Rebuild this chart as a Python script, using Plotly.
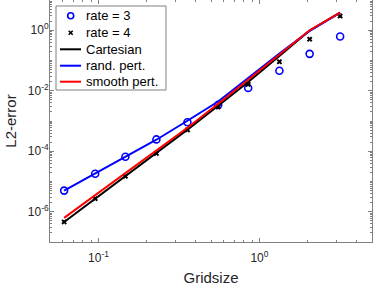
import plotly.graph_objects as go

# Grid sizes (x)
gridsize = [0.0612, 0.0954, 0.147, 0.229, 0.357, 0.554, 0.851, 1.33, 2.05, 3.17]

# Reference rates (markers)
rate3 = [5.0e-6, 1.8e-5, 6.6e-5, 2.46e-4, 9.1e-4, 3.4e-3, 0.0124, 0.046, 0.166, 0.62]
rate4 = [4.6e-7, 2.7e-6, 1.49e-5, 8.5e-5, 5.1e-4, 2.9e-3, 0.0163, 0.091, 0.506, 2.95]

# Error curves
cartesian = [4.6e-7, 2.7e-6, 1.48e-5, 8.5e-5, 5.2e-4, 3.2e-3, 0.0195, 0.141, 0.977, 3.85]
rand_pert = [5.0e-6, 1.8e-5, 6.6e-5, 2.4e-4, 1.02e-3, 4.4e-3, 0.0263, 0.170, 0.955, 3.85]
smooth_pert = [6.3e-7, 3.55e-6, 2.0e-5, 1.1e-4, 6.0e-4, 3.7e-3, 0.0229, 0.151, 1.0, 3.85]

legend_names = ["rate = 3", "rate = 4", "Cartesian", "rand. pert.", "smooth pert."]

x_major = [0.1, 1]
x_major_text = ["10<sup>-1</sup>", "10<sup>0</sup>"]
y_major = [1e-6, 1e-4, 1e-2, 1]
y_major_text = ["10<sup>-6</sup>", "10<sup>-4</sup>", "10<sup>-2</sup>", "10<sup>0</sup>"]

x_minor = [k * 10.0 ** e for e in (-2, -1, 0) for k in range(1, 10) if 0.05 <= k * 10.0 ** e <= 5]
y_minor = [k * 10.0 ** e for e in range(-7, 1) for k in range(1, 10)] + [10.0]

FONT = "Liberation Sans, Arial, sans-serif"
TXT = "#262626"
AX = "#808080"
BLUE = "#0000ff"
RED = "#ff0000"
BLACK = "#000000"

W, H = 374, 286
ML, MR, MT, MB = 50, 2, 0, 44
PW, PH = W - ML - MR, H - MT - MB

fig = go.Figure()
fig.add_trace(go.Scatter(x=gridsize, y=rate3, mode="markers", name=legend_names[0],
                         marker=dict(symbol="circle-open", size=7, color=BLUE,
                                     line=dict(width=1.6, color=BLUE))))
fig.add_trace(go.Scatter(x=gridsize, y=rate4, mode="markers", name=legend_names[1],
                         marker=dict(symbol="x", size=5, color=BLACK, line=dict(width=0))))
fig.add_trace(go.Scatter(x=gridsize, y=cartesian, mode="lines", name=legend_names[2],
                         line=dict(color=BLACK, width=2)))
fig.add_trace(go.Scatter(x=gridsize, y=rand_pert, mode="lines", name=legend_names[3],
                         line=dict(color=BLUE, width=2)))
fig.add_trace(go.Scatter(x=gridsize, y=smooth_pert, mode="lines", name=legend_names[4],
                         line=dict(color=RED, width=2)))

axis_common = dict(
    showgrid=False, zeroline=False, showline=True, linecolor=AX, linewidth=1,
    mirror="allticks", ticks="inside", ticklen=4, tickcolor=AX, automargin=False,
    tickfont=dict(family=FONT, size=12, color=TXT),
)

fig.update_xaxes(type="log", range=[-1.301, 0.699],
                 tickmode="array", tickvals=x_major, ticktext=x_major_text,
                 ticklabelstandoff=5,
                 minor=dict(tickmode="array", tickvals=x_minor, ticks="inside",
                            ticklen=2, tickcolor=AX),
                 title=dict(text="Gridsize", font=dict(family=FONT, size=15, color=TXT),
                            standoff=13),
                 **axis_common)
fig.update_yaxes(type="log", range=[-7, 1],
                 tickmode="array", tickvals=y_major, ticktext=y_major_text,
                 ticklabelstandoff=-2,
                 minor=dict(tickmode="array", tickvals=y_minor, ticks="inside",
                            ticklen=2, tickcolor=AX),
                 title=dict(text="L2-error", font=dict(family=FONT, size=15, color=TXT),
                            standoff=7),
                 **axis_common)

# ---- hand-drawn legend (pixel layout converted to paper coords) ----
def px(xp):
    return (xp - ML) / PW

def py(yp):
    return (H - MB - yp) / PH

shapes = [dict(type="rect", xref="paper", yref="paper",
               x0=px(56), x1=px(166), y0=py(90), y1=py(6),
               line=dict(color=AX, width=1), fillcolor="white", layer="above")]
annotations = []
row_y = [15.7, 32.7, 49.3, 65.7, 81.7]
for i, name in enumerate(legend_names):
    annotations.append(dict(text=name, xref="paper", yref="paper", x=px(84), y=py(row_y[i]),
                            xanchor="left", yanchor="middle", showarrow=False,
                            font=dict(family=FONT, size=13, color=BLACK)))
# samples
shapes.append(dict(type="circle", xref="paper", yref="paper", xsizemode="pixel", ysizemode="pixel",
                   xanchor=px(70.7), yanchor=py(row_y[0]), x0=-3, x1=3, y0=-3, y1=3,
                   line=dict(color=BLUE, width=1.6), layer="above"))
for dx0, dy0, dx1, dy1 in [(-2, -2, 2, 2), (-2, 2, 2, -2)]:
    shapes.append(dict(type="line", xref="paper", yref="paper", xsizemode="pixel", ysizemode="pixel",
                       xanchor=px(70.7), yanchor=py(row_y[1]), x0=dx0, x1=dx1, y0=dy0, y1=dy1,
                       line=dict(color=BLACK, width=1.6), layer="above"))
for i, col in zip([2, 3, 4], [BLACK, BLUE, RED]):
    shapes.append(dict(type="line", xref="paper", yref="paper",
                       x0=px(60), x1=px(81), y0=py(row_y[i]), y1=py(row_y[i]),
                       line=dict(color=col, width=2), layer="above"))

fig.update_layout(
    width=W, height=H,
    margin=dict(l=ML, r=MR, t=MT, b=MB),
    paper_bgcolor="white", plot_bgcolor="white",
    showlegend=False,
    shapes=shapes, annotations=annotations,
)

fig.write_html("out.html", config={"displayModeBar": False},
               post_script="document.body.style.margin='0';")
